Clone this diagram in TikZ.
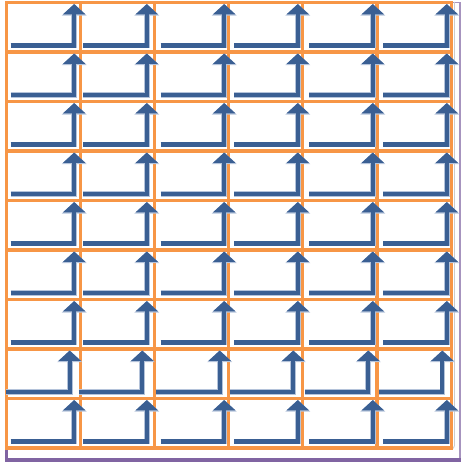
\documentclass[tikz,border=0pt]{standalone}
\usepackage{tikz}
\usetikzlibrary{arrows.meta}
\usepackage{xcolor}
\definecolor{gridorange}{HTML}{F79646}
\definecolor{flowblue}{HTML}{3A5F93}
\definecolor{halo}{HTML}{B4C3DA}
\definecolor{framepurple}{HTML}{8064A2}

\begin{document}
\begin{tikzpicture}[
    x=0.02cm, y=-0.02cm,
    gridline/.style={gridorange, line width=1.8pt, line cap=rect},
    frame/.style={framepurple, line width=1.8pt},
    flow/.style={flowblue, line width=2.3pt, line join=miter,
        -{Triangle[width=12.5pt, length=5.9pt]},
        preaction={draw=halo, line width=3.2pt, -{Triangle[width=13.8pt, length=6.6pt]}}}
]
    % Canvas
    \useasboundingbox (0,0) rectangle (462,465);

    % Purple frame behind the grid
    \draw[framepurple!70, line width=0.6pt] (6.5,2.5) rectangle (460,460);
    \draw[frame] (6.5,440) -- (6.5,460) -- (461,460);
    \draw[black!20, line width=0.5pt, rounded corners=2] (454.5,2) -- (454.5,449) -- (450,449);

    % Orange grid
    \foreach \i in {0,...,6}
        \draw[gridline] ({6.5+74.1*\i},2.5) -- ({6.5+74.1*\i},448);
    \foreach \j in {0,...,9}
        \draw[gridline] (6.5,{2.5+49.5*\j}) -- (451.1,{2.5+49.5*\j});

    % L-shaped arrows, one per cell (row 8 sits a little to the left)
    \foreach \j in {0,...,8} {
        \pgfmathsetmacro{\shift}{\j==7 ? -4.5 : 0}
        \foreach \ax in {10.7, 83.3, 160.7, 234.3, 309.3, 383.3}
            \draw[flow] ({\ax+\shift},{2.5+49.5*\j+43}) -| ({\ax+\shift+63.5},{2.5+49.5*\j+1.5});
    }
\end{tikzpicture}
\end{document}
